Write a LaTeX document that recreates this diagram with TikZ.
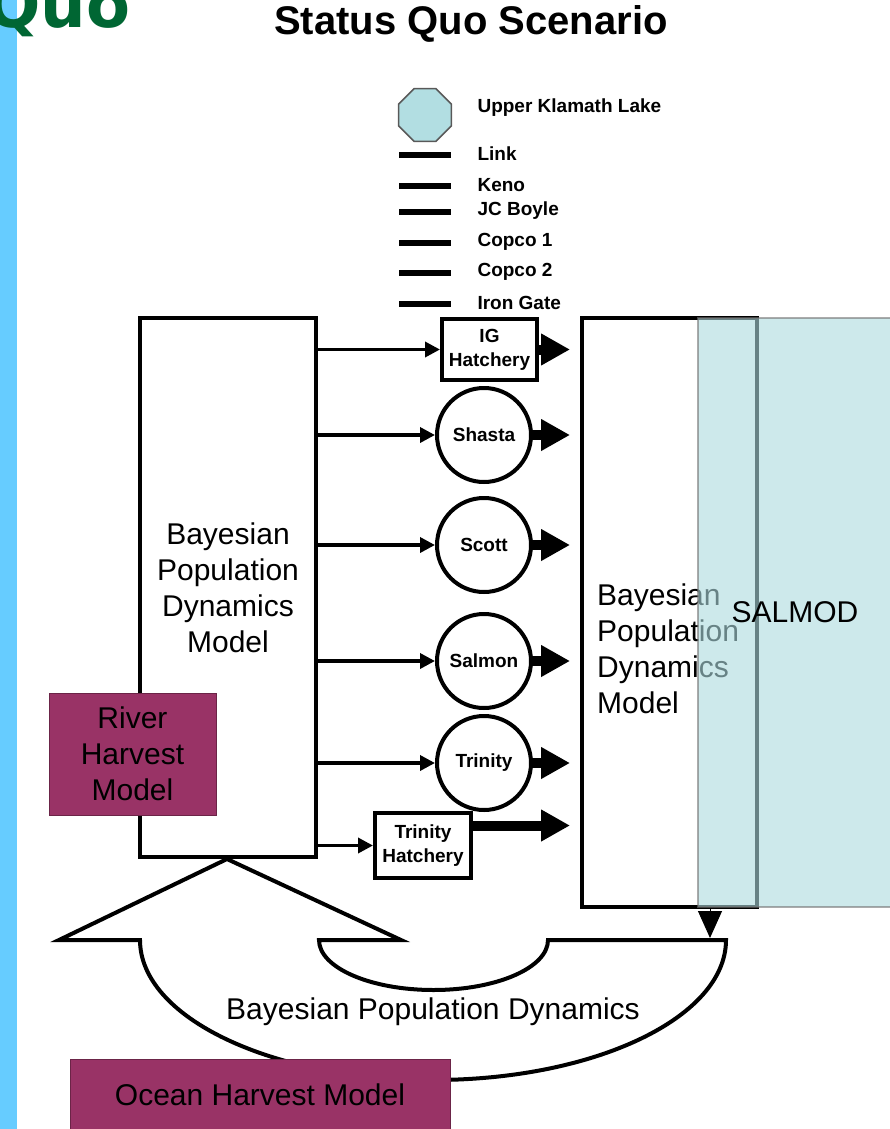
\documentclass[tikz,border=0pt]{standalone}
\usepackage{fontspec}
\setmainfont{Liberation Sans}
\newfontfamily\quofont{DejaVu Sans}
\usetikzlibrary{arrows.meta,shapes.geometric}
\definecolor{skyband}{RGB}{102,204,255}
\definecolor{quogreen}{RGB}{0,102,51}
\definecolor{lakeblue}{RGB}{178,222,226}
\definecolor{harvest}{RGB}{153,51,102}
\definecolor{salmodfill}{RGB}{172,218,222}

\begin{document}
\begin{tikzpicture}[x=1pt, y=-1pt,
  bigtxt/.style={font=\fontsize{30}{36}\selectfont},
  smalltxt/.style={font=\bfseries\fontsize{19}{24}\selectfont},
  feed/.style={line width=3.5pt, -{Triangle[length=15pt 0 0,width=15pt 0 0]}},
  flow/.style={line width=10pt, -{Triangle[length=29pt 0 0,width=30pt 0 0]}},
  station/.style={circle, draw, line width=4pt, minimum size=94pt, inner sep=0pt, smalltxt},
  hatchery/.style={rectangle, draw, line width=4pt, inner sep=0pt, align=center, smalltxt},
  harvestbox/.style={rectangle, draw=harvest!70!black, fill=harvest, line width=1pt, align=center, bigtxt}]
  \useasboundingbox (0,0) rectangle (890,1129);
  \clip (0,0) rectangle (890,1129);
  \fill[skyband] (0,0) rectangle (17,1129);
  \node[anchor=base west, inner sep=0pt, text=quogreen, font=\quofont\bfseries\fontsize{64}{64}\selectfont] (quo) at (-14,28) {Quo};
  \node[font=\bfseries\fontsize{40}{48}\selectfont] (title) at (471,24) {Status Quo Scenario};

  % legend
  \node[regular polygon, regular polygon sides=8, draw=black!65, fill=lakeblue, line width=1.5pt, minimum size=57pt] (lake) at (425,115) {};
  \node[smalltxt, anchor=west] (lakelbl) at (474,108) {Upper Klamath Lake};
  \foreach \y/\t in {155/Link, 186/Keno, 212/JC Boyle, 243/Copco 1, 273/Copco 2, 304/Iron Gate} {
    \draw[line width=6pt] (399,\y) -- (451,\y);
    \node[smalltxt, anchor=west] at (474,\y-1) {\t};
  }

  % models
  \node[draw, line width=4pt, minimum width=176pt, minimum height=539pt, align=center, bigtxt] (lbox) at (228,587.5) {Bayesian\\Population\\Dynamics\\Model};
  \node[harvestbox, minimum width=167pt, minimum height=122pt] (river) at (132.5,754) {River\\Harvest\\Model};
  \node[draw, line width=4pt, minimum width=175pt, minimum height=589pt] (rbox) at (669.5,612.5) {};
  \node[bigtxt, align=left, anchor=north west, inner sep=0pt] (rtxt) at (597,584) {Bayesian\\Population\\Dynamics\\Model};
  \node[draw=black!55, line width=1.5pt, draw opacity=0.6, fill=salmodfill, fill opacity=0.6, text opacity=1, minimum width=194pt, minimum height=589pt, bigtxt] (salmod) at (795,612.5) {SALMOD};

  % hatcheries and tributaries
  \node[hatchery, minimum width=95pt, minimum height=61pt] (igh) at (489.5,349.5) {IG\\Hatchery};
  \node[hatchery, minimum width=96pt, minimum height=65pt] (trh) at (423,845.5) {Trinity\\Hatchery};
  \foreach \n/\t/\y in {shasta/Shasta/435, scott/Scott/545, salmon/Salmon/661, trinity/Trinity/763} {
    \node[station] (\n) at (484,\y) {\t};
    \draw[feed] (lbox.east |- \n) -- (\n);
    \draw[flow] (\n.east) -- ++(37,0);
  }
  \draw[feed] (lbox.east |- igh) -- (igh);
  \draw[flow] (igh.east) -- ++(31,0);
  \draw[feed] (lbox.east |- trh) -- (trh);
  \draw[flow] ([yshift=20pt]trh.east) -- ++(97,0);

  % cycle
  \draw[line width=4pt, fill=white, line join=miter] (59,940) -- (227,859) -- (401,940) -- (319,940)
    arc[start angle=180, end angle=0, x radius=114.5, y radius=50] -- (726,940)
    arc[start angle=0, end angle=180, x radius=293, y radius=140] -- cycle;
  \node[bigtxt] (cyclelbl) at (433,1012) {Bayesian Population Dynamics};
  \node[harvestbox, minimum width=380pt, minimum height=72pt] (ocean) at (260,1095) {Ocean Harvest Model};
  \draw[line width=1pt, -{Triangle[length=27pt 0 0,width=24pt 0 0]}] ([xshift=40.5pt]rbox.south) -- ++(0,29);
\end{tikzpicture}
\end{document}
